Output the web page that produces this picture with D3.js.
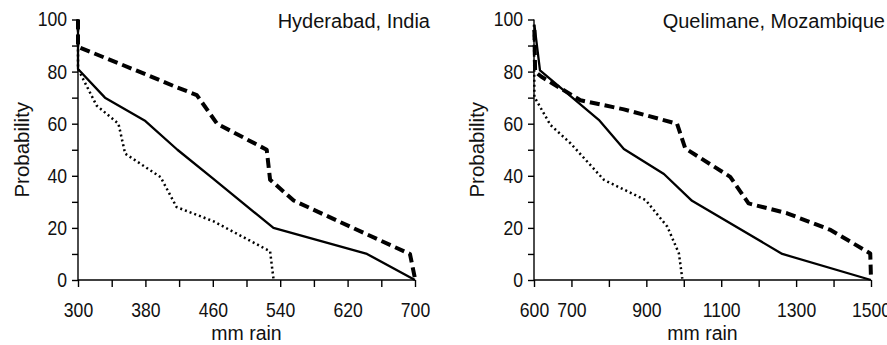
<!DOCTYPE html>
<html>
<head>
<meta charset="utf-8">
<script src="https://cdn.jsdelivr.net/npm/d3@7"></script>
<style>
  body { margin: 0; background: #fff; }
  svg text { font-family: "Liberation Sans", Arial, sans-serif; fill: #111; }
</style>
</head>
<body>
<div id="chart"></div>
<script>
// Hyderabad, India: [mm rain, probability]
const hydSolid = [[300, 100], [300, 81], [332, 70], [380, 61], [418, 50], [460, 39], [532, 20], [643, 10], [700, 0]];
const hydDashed = [[300, 100], [300, 89.5], [380, 79], [417, 74], [441, 71], [465, 60], [524, 50], [528, 38.5], [556, 30.5], [643, 17.5], [694, 10], [700, 0.5]];
const hydDotted = [[300, 100], [300, 81], [322, 67], [348, 60], [356, 48.5], [398, 39.5], [417, 28], [461, 22.5], [528, 11], [532, 0.5]];

// Quelimane, Mozambique
const queSolid = [[601, 98], [616, 80.5], [773, 61.5], [840, 50.3], [947, 40.7], [1022, 30.4], [1263, 10], [1500, 0]];
const queDashed = [[601, 96], [603, 80], [620, 78], [724, 69], [840, 65.5], [982, 60], [1004, 50.5], [1124, 39.6], [1173, 29.4], [1276, 25.6], [1392, 19.2], [1498, 10.2], [1500, 0.5]];
const queDotted = [[600, 98], [601, 70.3], [644, 59.5], [698, 52.4], [787, 38.4], [898, 30.7], [956, 20.5], [987, 10.2], [996, 0.5]];

const yTicks = [0, 20, 40, 60, 80, 100];
const hydTicks = [300, 380, 460, 540, 620, 700];
const queTicks = [600, 700, 900, 1100, 1300, 1500];

const panels = [
  { title: "Hyderabad, India", domain: [300, 700], range: [78, 415], minor: d3.range(300, 701, 40), labels: hydTicks,
    series: [hydSolid, hydDashed, hydDotted], titleX: 430, ylabX: 22 },
  { title: "Quelimane, Mozambique", domain: [600, 1500], range: [534, 871], minor: d3.range(600, 1501, 100), labels: queTicks,
    series: [queSolid, queDashed, queDotted], titleX: 885, ylabX: 477 }
];

const styles = [
  { w: 2.3, dash: null },
  { w: 4, dash: "10,5" },
  { w: 2.5, dash: "2,3" }
];

// the reference digits are narrower than Liberation Sans
const digitScale = 0.88;

const svg = d3.select("#chart").append("svg")
  .attr("width", 887)
  .attr("height", 345);

const y = d3.scaleLinear().domain([0, 100]).range([280, 19.5]);

panels.forEach(p => {
  const x = d3.scaleLinear().domain(p.domain).range(p.range);
  const g = svg.append("g");

  // x axis
  const xa = g.append("g")
    .attr("transform", `translate(0,${y(0)})`)
    .call(d3.axisBottom(x).tickValues(p.minor).tickSize(7)
      .tickFormat(d => p.labels.includes(d) ? d : ""));
  xa.select(".domain").attr("stroke-width", 1.4).attr("d", `M${p.range[0]},0H${p.range[1]}`);
  xa.selectAll(".tick line").attr("stroke-width", 1.4);
  xa.selectAll(".tick text")
    .attr("y", 37).attr("dy", null)
    .attr("transform", `scale(${digitScale},1)`)
    .style("font-size", "20px");

  // y axis
  const ya = g.append("g")
    .attr("transform", `translate(${p.range[0]},0)`)
    .call(d3.axisLeft(y).tickValues(d3.range(0, 101, 10)).tickSize(6)
      .tickFormat(d => yTicks.includes(d) ? d : ""));
  ya.select(".domain").attr("stroke-width", 1.4).attr("d", `M0,${y(100)}V${y(0)}`);
  ya.selectAll(".tick line").attr("stroke-width", 1.4);
  ya.selectAll(".tick text")
    .attr("x", -11 / digitScale)
    .attr("transform", `scale(${digitScale},1)`)
    .style("font-size", "20px");

  // lines
  const line = d3.line().x(d => x(d[0])).y(d => y(d[1]));
  p.series.forEach((s, i) => {
    g.append("path")
      .datum(s)
      .attr("fill", "none")
      .attr("stroke", "#000")
      .attr("stroke-width", styles[i].w)
      .attr("stroke-dasharray", styles[i].dash)
      .attr("stroke-linejoin", "round")
      .attr("d", line);
  });

  // labels
  g.append("text")
    .attr("x", p.titleX).attr("y", 28)
    .attr("text-anchor", "end")
    .style("font-size", "20px")
    .text(p.title);

  g.append("text")
    .attr("x", (p.range[0] + p.range[1]) / 2).attr("y", 340)
    .attr("text-anchor", "middle")
    .style("font-size", "19.5px")
    .text("mm rain");

  g.append("text")
    .attr("transform", `translate(${p.ylabX},${(y(0) + y(100)) / 2}) rotate(-90)`)
    .attr("text-anchor", "middle")
    .attr("dy", "0.35em")
    .style("font-size", "20.5px")
    .text("Probability");
});
</script>
</body>
</html>
